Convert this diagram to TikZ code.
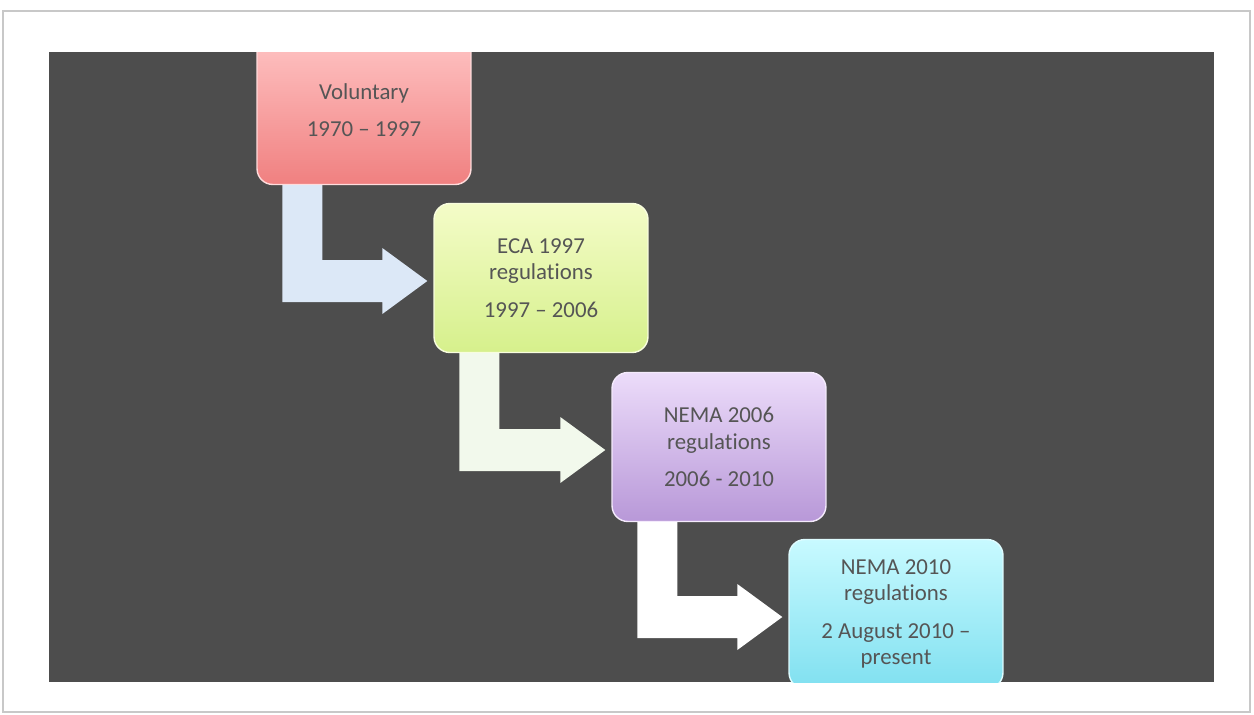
\documentclass[tikz,border=0pt]{standalone}
\usepackage{fontspec}
\setmainfont[Ligatures=NoCommon]{Carlito}
\usetikzlibrary{calc,positioning}
\definecolor{slide}{RGB}{77,77,77}
\definecolor{frame}{RGB}{200,200,200}
\definecolor{txt}{RGB}{85,85,85}
\definecolor{redtop}{RGB}{255,196,196}
\definecolor{redbot}{RGB}{240,128,128}
\definecolor{greentop}{RGB}{244,252,200}
\definecolor{greenbot}{RGB}{214,240,140}
\definecolor{purpletop}{RGB}{236,220,250}
\definecolor{purplebot}{RGB}{184,152,216}
\definecolor{cyantop}{RGB}{200,250,255}
\definecolor{cyanbot}{RGB}{128,224,240}
\definecolor{arrowblue}{RGB}{220,232,247}
\definecolor{arrowgreen}{RGB}{242,249,236}

% bent arrow from the foot of one box into the side of the next
\newcommand{\bentarrow}[3]{%
  \coordinate (tl) at ($(#1.south west)+(26,0)$);
  \coordinate (tr) at ($(#1.south west)+(66,0)$);
  \coordinate (su) at ($(#2.west)+(-51,-18)$);
  \coordinate (sd) at ($(#2.west)+(-51,24)$);
  \coordinate (hu) at ($(#2.west)+(-51,-30)$);
  \coordinate (hd) at ($(#2.west)+(-51,36)$);
  \coordinate (tip) at ($(#2.west)+(-6,3)$);
  \fill[#3] (tl) -- (tr) -- (tr |- su) -- (su) -- (hu) -- (tip) -- (hd) -- (sd) -- (tl |- sd) -- cycle;
}

\begin{document}
\begin{tikzpicture}[x=0.02cm, y=-0.02cm,
  stage/.style={rounded corners=9pt, minimum width=4.28cm, minimum height=2.98cm,
    align=center, text=txt, font=\fontsize{13}{15}\selectfont, line width=0.8pt}]
  \useasboundingbox (0,0) rectangle (1254,714);
  \fill[white] (0,0) rectangle (1254,714);
  \draw[frame, line width=0.8pt] (3,11) rectangle (1250,712);

  % slide
  \fill[slide] (49,52) rectangle (1214,682);

  \begin{scope}
    \clip (49,52) rectangle (1214,682);
    \node[stage, top color=redtop, bottom color=redbot, draw=redtop!60!white] (voluntary) at (364,110)
      {Voluntary\\[0.22cm]1970 -- 1997};
    \node[stage, top color=greentop, bottom color=greenbot, draw=greentop!60!white] (eca) at (541,278)
      {ECA 1997\\regulations\\[0.22cm]1997 -- 2006};
    \node[stage, top color=purpletop, bottom color=purplebot, draw=purpletop!60!white] (nema06) at (719,447)
      {NEMA 2006\\regulations\\[0.22cm]2006 - 2010};
    \node[stage, top color=cyantop, bottom color=cyanbot, draw=cyantop!60!white] (nema10) at (896,614)
      {NEMA 2010\\regulations\\[0.22cm]2 August 2010 --\\present};

    % arrows
    \bentarrow{voluntary}{eca}{arrowblue}
    \bentarrow{eca}{nema06}{arrowgreen}
    \bentarrow{nema06}{nema10}{white}
  \end{scope}
\end{tikzpicture}
\end{document}
